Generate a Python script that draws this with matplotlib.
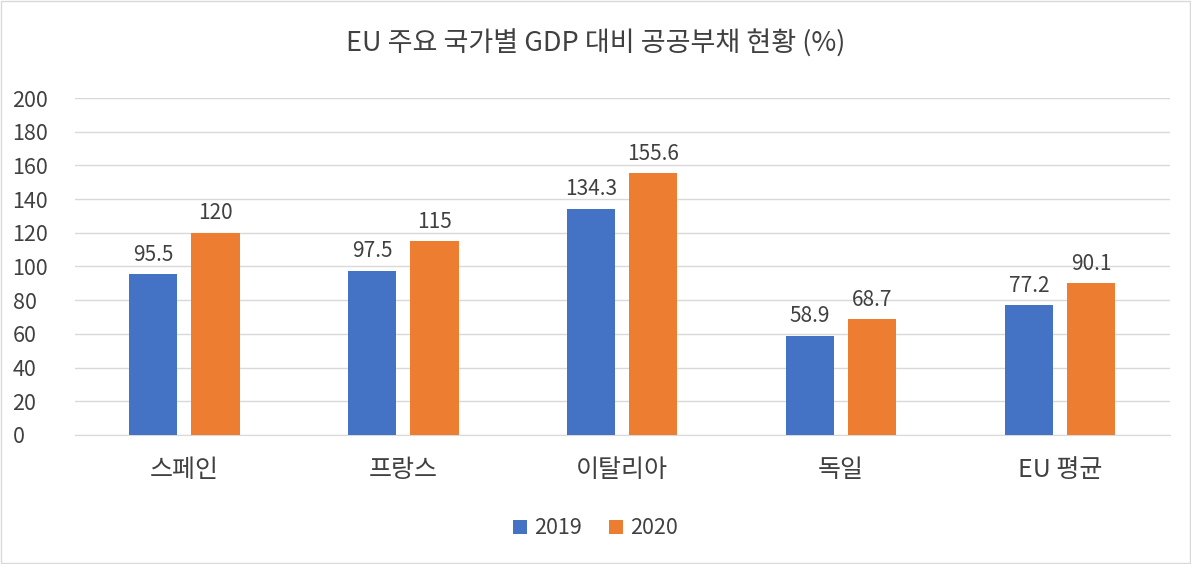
import numpy as np
import matplotlib
matplotlib.use("Agg")
import matplotlib.pyplot as plt

plt.rcParams['font.family'] = ['Noto Sans CJK KR', 'DejaVu Sans']

# 데이터
countries = ['스페인', '프랑스', '이탈리아', '독일', 'EU 평균']
debt_2019 = [95.5, 97.5, 134.3, 58.9, 77.2]
debt_2020 = [120, 115, 155.6, 68.7, 90.1]
yticks = [0, 20, 40, 60, 80, 100, 120, 140, 160, 180, 200]

blue = '#4472C4'
orange = '#ED7D31'
txt = '#404040'

fig = plt.figure(figsize=(11.91, 5.64), dpi=100)
ax = fig.add_axes([0.063, 0.229, 0.919, 0.597])

x = np.arange(len(countries))
w = 0.22
off = 0.142
b1 = ax.bar(x - off, debt_2019, w, color=blue, label='2019', zorder=3)
b2 = ax.bar(x + off, debt_2020, w, color=orange, label='2020', zorder=3)

for bars, vals in ((b1, debt_2019), (b2, debt_2020)):
    for b, v in zip(bars, vals):
        ax.annotate(f'{v:g}', (b.get_x() + b.get_width() / 2, v),
                    xytext=(0, 6), textcoords='offset points',
                    ha='center', va='bottom', fontsize=15, color=txt)

ax.set_xlim(-0.5, len(countries) - 0.5)
ax.set_ylim(0, 200)
ax.set_yticks(yticks)
ax.set_xticks(x)
ax.set_xticklabels(countries, fontsize=18, color=txt)
ax.tick_params(axis='y', labelsize=15.5, colors=txt, length=0, pad=45)
ax.tick_params(axis='x', length=0, pad=16)
ax.grid(axis='y', color='#D9D9D9', linewidth=1, zorder=0)
for s in ['top', 'right', 'left']:
    ax.spines[s].set_visible(False)
ax.spines['bottom'].set_color('#D9D9D9')
for lbl in ax.get_yticklabels():
    lbl.set_horizontalalignment('left')

fig.suptitle('EU 주요 국가별 GDP 대비 공공부채 현황 (%)', y=0.948,
             fontsize=19.5, color=txt)

fig.legend(handles=[b1, b2], loc='center', bbox_to_anchor=(0.5, 0.063),
           ncol=2, frameon=False, fontsize=15.5, handlelength=0.65,
           handleheight=0.65, columnspacing=1.3, handletextpad=0.3,
           labelcolor=txt)

fig.patches.append(plt.Rectangle((0.001, 0.002), 0.998, 0.996,
                                 transform=fig.transFigure, fill=False,
                                 edgecolor='#D9D9D9', linewidth=1))

fig.savefig('out.png', dpi=100)
